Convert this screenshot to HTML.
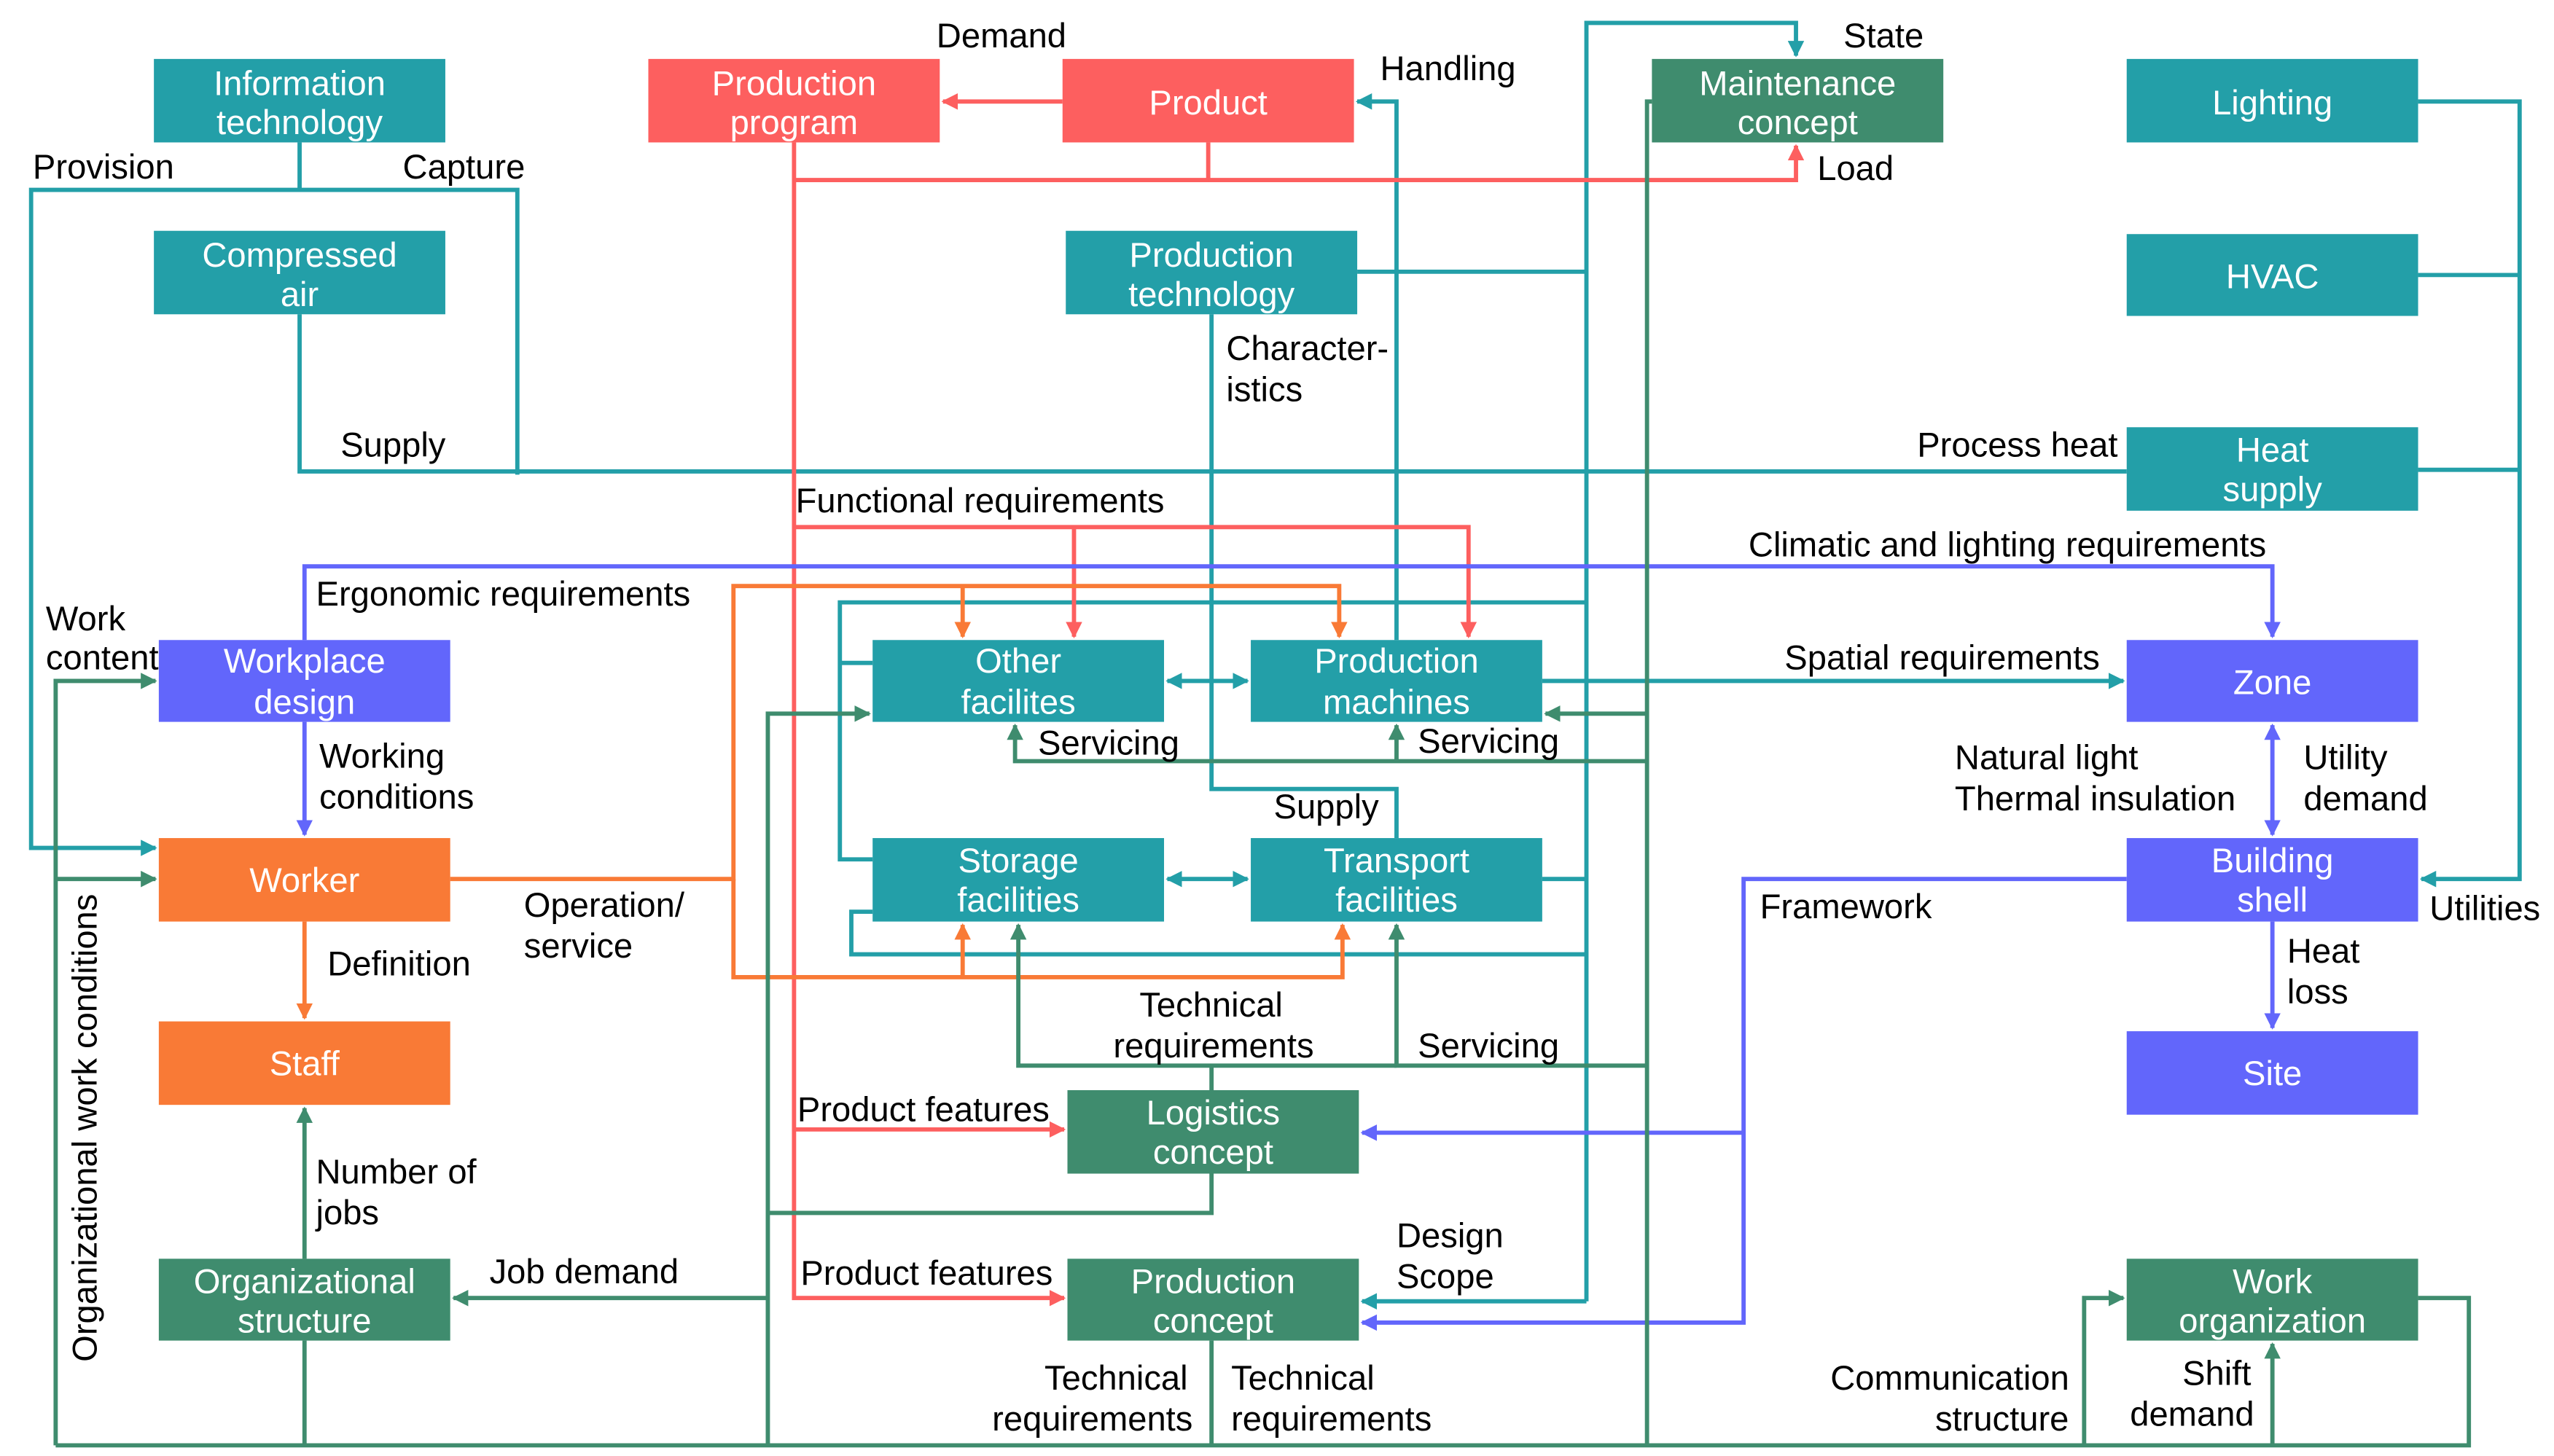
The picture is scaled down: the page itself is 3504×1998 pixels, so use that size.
<!DOCTYPE html>
<html><head><meta charset="utf-8"><style>
html,body{margin:0;padding:0;background:#fff}
svg{display:block}
text{font-family:"Liberation Sans",Arial,sans-serif;font-size:21px}
.b{fill:#fff;text-anchor:middle}
.l{fill:#000}
</style></head><body>
<svg width="3504" height="1998" viewBox="0 0 1560 889.5" xmlns="http://www.w3.org/2000/svg">
<defs>
<marker id="at" markerWidth="10" markerHeight="10" refX="9" refY="5" orient="auto-start-reverse" markerUnits="userSpaceOnUse"><path d="M0,0L10,5L0,10z" fill="#239fa8"/></marker>
<marker id="ar" markerWidth="10" markerHeight="10" refX="9" refY="5" orient="auto-start-reverse" markerUnits="userSpaceOnUse"><path d="M0,0L10,5L0,10z" fill="#fd5f5f"/></marker>
<marker id="ag" markerWidth="10" markerHeight="10" refX="9" refY="5" orient="auto-start-reverse" markerUnits="userSpaceOnUse"><path d="M0,0L10,5L0,10z" fill="#3f8c6e"/></marker>
<marker id="ao" markerWidth="10" markerHeight="10" refX="9" refY="5" orient="auto-start-reverse" markerUnits="userSpaceOnUse"><path d="M0,0L10,5L0,10z" fill="#f97a36"/></marker>
<marker id="ab" markerWidth="10" markerHeight="10" refX="9" refY="5" orient="auto-start-reverse" markerUnits="userSpaceOnUse"><path d="M0,0L10,5L0,10z" fill="#6266fb"/></marker>
</defs>
<g fill="none" stroke-width="2.6">
<g stroke="#239fa8">
<polyline points="183,87 183,116 19,116 19,518 95,518" marker-end="url(#at)"/>
<polyline points="183,116 316,116 316,290"/>
<polyline points="183,192 183,288 1299,288"/>
<polyline points="829,166 969,166"/>
<polyline points="969,795 969,14 1097,14 1097,34" marker-end="url(#at)"/>
<polyline points="969,795 832,795" marker-end="url(#at)"/>
<polyline points="740,192 740,482 853,482 853,512"/>
<polyline points="853,391 853,62 829,62" marker-end="url(#at)"/>
<line x1="713" y1="416" x2="762" y2="416" marker-start="url(#at)" marker-end="url(#at)"/>
<line x1="713" y1="537" x2="762" y2="537" marker-start="url(#at)" marker-end="url(#at)"/>
<polyline points="942,416 1297,416" marker-end="url(#at)"/>
<polyline points="1477,62 1539,62 1539,537 1479,537" marker-end="url(#at)"/>
<polyline points="1477,168 1539,168"/>
<polyline points="1477,287 1539,287"/>
<polyline points="969,368 513,368 513,525 533,525"/>
<polyline points="513,405 533,405"/>
<polyline points="533,557 520,557 520,583 969,583"/>
<polyline points="942,537 969,537"/>
</g>
<g stroke="#fd5f5f">
<polyline points="649,62 576,62" marker-end="url(#ar)"/>
<polyline points="738,87 738,110 485,110"/>
<polyline points="738,110 1097,110 1097,89" marker-end="url(#ar)"/>
<polyline points="485,87 485,793 650,793" marker-end="url(#ar)"/>
<polyline points="485,690 650,690" marker-end="url(#ar)"/>
<polyline points="485,322 897,322 897,389" marker-end="url(#ar)"/>
<polyline points="656,322 656,389" marker-end="url(#ar)"/>
</g>
<g stroke="#f97a36">
<polyline points="275,537 448,537 448,358 818,358 818,389" marker-end="url(#ao)"/>
<polyline points="588,358 588,389" marker-end="url(#ao)"/>
<polyline points="448,537 448,597 820,597 820,565" marker-end="url(#ao)"/>
<polyline points="588,597 588,565" marker-end="url(#ao)"/>
<polyline points="186,563 186,622" marker-end="url(#ao)"/>
</g>
<g stroke="#6266fb">
<polyline points="186,391 186,346 1388,346 1388,389" marker-end="url(#ab)"/>
<polyline points="186,441 186,510" marker-end="url(#ab)"/>
<line x1="1388" y1="443" x2="1388" y2="510" marker-start="url(#ab)" marker-end="url(#ab)"/>
<polyline points="1388,563 1388,628" marker-end="url(#ab)"/>
<polyline points="1299,537 1065,537 1065,808 832,808" marker-end="url(#ab)"/>
<polyline points="1065,692 832,692" marker-end="url(#ab)"/>
</g>
<g stroke="#3f8c6e">
<polyline points="1009,62 1006,62 1006,883"/>
<polyline points="1006,436 944,436" marker-end="url(#ag)"/>
<polyline points="1006,465 620,465 620,443" marker-end="url(#ag)"/>
<polyline points="853,465 853,443" marker-end="url(#ag)"/>
<polyline points="1006,651 853,651 853,565" marker-end="url(#ag)"/>
<polyline points="853,651 622,651 622,565" marker-end="url(#ag)"/>
<polyline points="740,651 740,666"/>
<polyline points="469,883 469,436 531,436" marker-end="url(#ag)"/>
<polyline points="469,793 277,793" marker-end="url(#ag)"/>
<polyline points="740,717 740,741 469,741"/>
<polyline points="186,769 186,677" marker-end="url(#ag)"/>
<polyline points="186,819 186,883"/>
<polyline points="740,819 740,883"/>
<polyline points="34,883 1508,883 1508,793 1477,793"/>
<polyline points="34,883 34,416 95,416" marker-end="url(#ag)"/>
<polyline points="34,537 95,537" marker-end="url(#ag)"/>
<polyline points="1273,883 1273,793 1297,793" marker-end="url(#ag)"/>
<polyline points="1388,883 1388,821" marker-end="url(#ag)"/>
</g>
</g>
<g>
<rect x="94" y="36" width="178" height="51" fill="#239fa8"/>
<rect x="396" y="36" width="178" height="51" fill="#fd5f5f"/>
<rect x="649" y="36" width="178" height="51" fill="#fd5f5f"/>
<rect x="1009" y="36" width="178" height="51" fill="#3f8c6e"/>
<rect x="1299" y="36" width="178" height="51" fill="#239fa8"/>
<rect x="94" y="141" width="178" height="51" fill="#239fa8"/>
<rect x="651" y="141" width="178" height="51" fill="#239fa8"/>
<rect x="1299" y="143" width="178" height="50" fill="#239fa8"/>
<rect x="1299" y="261" width="178" height="51" fill="#239fa8"/>
<rect x="97" y="391" width="178" height="50" fill="#6266fb"/>
<rect x="533" y="391" width="178" height="50" fill="#239fa8"/>
<rect x="764" y="391" width="178" height="50" fill="#239fa8"/>
<rect x="1299" y="391" width="178" height="50" fill="#6266fb"/>
<rect x="97" y="512" width="178" height="51" fill="#f97a36"/>
<rect x="533" y="512" width="178" height="51" fill="#239fa8"/>
<rect x="764" y="512" width="178" height="51" fill="#239fa8"/>
<rect x="1299" y="512" width="178" height="51" fill="#6266fb"/>
<rect x="97" y="624" width="178" height="51" fill="#f97a36"/>
<rect x="1299" y="630" width="178" height="51" fill="#6266fb"/>
<rect x="652" y="666" width="178" height="51" fill="#3f8c6e"/>
<rect x="97" y="769" width="178" height="50" fill="#3f8c6e"/>
<rect x="652" y="769" width="178" height="50" fill="#3f8c6e"/>
<rect x="1299" y="769" width="178" height="50" fill="#3f8c6e"/>
</g>
<g>
<text x="183" y="58" class="b">Information</text><text x="183" y="82" class="b">technology</text>
<text x="485" y="58" class="b">Production</text><text x="485" y="82" class="b">program</text>
<text x="738" y="70" class="b">Product</text>
<text x="1098" y="58" class="b">Maintenance</text><text x="1098" y="82" class="b">concept</text>
<text x="1388" y="70" class="b">Lighting</text>
<text x="183" y="163" class="b">Compressed</text><text x="183" y="187" class="b">air</text>
<text x="740" y="163" class="b">Production</text><text x="740" y="187" class="b">technology</text>
<text x="1388" y="176" class="b">HVAC</text>
<text x="1388" y="282" class="b">Heat</text><text x="1388" y="306" class="b">supply</text>
<text x="186" y="411" class="b">Workplace</text><text x="186" y="436" class="b">design</text>
<text x="622" y="411" class="b">Other</text><text x="622" y="436" class="b">facilites</text>
<text x="853" y="411" class="b">Production</text><text x="853" y="436" class="b">machines</text>
<text x="1388" y="424" class="b">Zone</text>
<text x="186" y="545" class="b">Worker</text>
<text x="622" y="533" class="b">Storage</text><text x="622" y="557" class="b">facilities</text>
<text x="853" y="533" class="b">Transport</text><text x="853" y="557" class="b">facilities</text>
<text x="1388" y="533" class="b">Building</text><text x="1388" y="557" class="b">shell</text>
<text x="186" y="657" class="b">Staff</text>
<text x="1388" y="663" class="b">Site</text>
<text x="741" y="687" class="b">Logistics</text><text x="741" y="711" class="b">concept</text>
<text x="186" y="790" class="b">Organizational</text><text x="186" y="814" class="b">structure</text>
<text x="741" y="790" class="b">Production</text><text x="741" y="814" class="b">concept</text>
<text x="1388" y="790" class="b">Work</text><text x="1388" y="814" class="b">organization</text>
</g>
<g class="l">
<text x="572" y="29">Demand</text>
<text x="843" y="49">Handling</text>
<text x="1126" y="29">State</text>
<text x="1110" y="110">Load</text>
<text x="20" y="109">Provision</text>
<text x="246" y="109">Capture</text>
<text x="208" y="279">Supply</text>
<text x="749" y="220">Character-</text><text x="749" y="245">istics</text>
<text x="1171" y="279">Process heat</text>
<text x="486" y="313">Functional requirements</text>
<text x="1068" y="340">Climatic and lighting requirements</text>
<text x="193" y="370">Ergonomic requirements</text>
<text x="28" y="385">Work</text><text x="28" y="409">content</text>
<text x="1090" y="409">Spatial requirements</text>
<text x="634" y="461">Servicing</text>
<text x="866" y="460">Servicing</text>
<text x="195" y="469">Working</text><text x="195" y="494">conditions</text>
<text x="1194" y="470">Natural light</text><text x="1194" y="495">Thermal insulation</text>
<text x="1407" y="470">Utility</text><text x="1407" y="495">demand</text>
<text x="778" y="500">Supply</text>
<text x="1075" y="561">Framework</text>
<text x="1484" y="562">Utilities</text>
<text x="320" y="560">Operation/</text><text x="320" y="585">service</text>
<text x="200" y="596">Definition</text>
<text x="1397" y="588">Heat</text><text x="1397" y="613">loss</text>
<text x="696" y="621">Technical</text><text x="680" y="646">requirements</text>
<text x="866" y="646">Servicing</text>
<text x="487" y="685">Product features</text>
<text x="193" y="723">Number of</text><text x="193" y="748">jobs</text>
<text x="299" y="784">Job demand</text>
<text x="489" y="785">Product features</text>
<text x="853" y="762">Design</text><text x="853" y="787">Scope</text>
<text x="638" y="849">Technical</text><text x="606" y="874">requirements</text>
<text x="752" y="849">Technical</text><text x="752" y="874">requirements</text>
<text x="1118" y="849">Communication</text><text x="1182" y="874">structure</text>
<text x="1333" y="846">Shift</text><text x="1301" y="871">demand</text>
<text transform="translate(59,832) rotate(-90)">Organizational work conditions</text>
</g>
</svg>
</body></html>
